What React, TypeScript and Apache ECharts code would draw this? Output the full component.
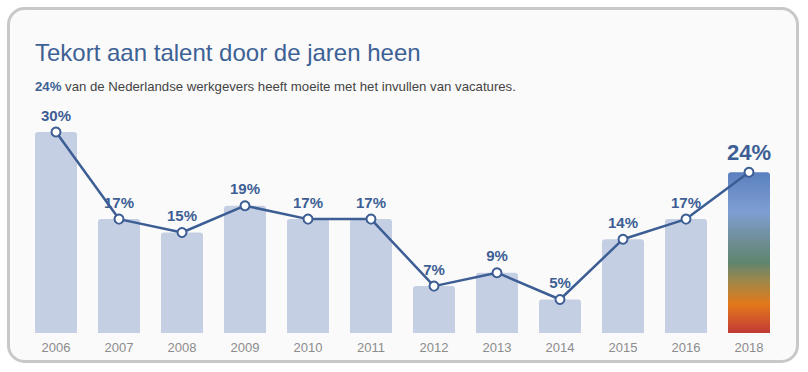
import React, { useEffect, useRef } from "react";
import * as echarts from "echarts";

const categories = ["2006", "2007", "2008", "2009", "2010", "2011", "2012", "2013", "2014", "2015", "2016", "2018"];
const values = [30, 17, 15, 19, 17, 17, 7, 9, 5, 14, 17, 24];

const TITLE = "Tekort aan talent door de jaren heen";
const SUB_BOLD = "24%";
const SUB_REST = " van de Nederlandse werkgevers heeft moeite met het invullen van vacatures.";

const FONT = "'Liberation Sans', Arial, Helvetica, sans-serif";
const BLUE = "#3d5e94";

export default function App() {
  const ref = useRef<HTMLDivElement>(null);
  useEffect(() => {
    if (!ref.current) return;
    const chart = echarts.init(ref.current, null, { renderer: "svg" });
    const last = values.length - 1;
    const gradient = new echarts.graphic.LinearGradient(0, 0, 0, 1, [
      { offset: 0, color: "#5b80bf" },
      { offset: 0.25, color: "#7e9fd2" },
      { offset: 0.45, color: "#6c8b8e" },
      { offset: 0.56, color: "#5f8570" },
      { offset: 0.68, color: "#a08848" },
      { offset: 0.82, color: "#e2791a" },
      { offset: 1, color: "#c23a36" },
    ]);
    chart.setOption({
      animation: false,
      backgroundColor: "#ffffff",
      graphic: [
        {
          type: "rect",
          z: -10,
          shape: { x: 8.5, y: 8.5, width: 789, height: 353, r: 16 },
          style: { fill: "#fafafa", stroke: "#c8c8c8", lineWidth: 3 },
        },
        {
          type: "text",
          x: 35,
          y: 52,
          style: {
            text: TITLE,
            font: `24px ${FONT}`,
            fill: "#3d6195",
            textVerticalAlign: "middle",
          },
        },
        {
          type: "text",
          x: 35,
          y: 86,
          style: {
            text: `{b|${SUB_BOLD}}{r|${SUB_REST}}`,
            textVerticalAlign: "middle",
            rich: {
              b: { fontFamily: FONT, fontSize: 13.2, fontWeight: "bold", fill: "#3d6195", color: "#3d6195" },
              r: { fontFamily: FONT, fontSize: 13.2, fill: "#444444", color: "#444444" },
            },
          },
        },
      ],
      grid: { left: 24.5, right: 27.5, top: 132, bottom: 39, containLabel: false },
      xAxis: {
        type: "category",
        data: categories,
        axisLine: { show: false },
        axisTick: { show: false },
        axisLabel: { color: "#8c8c8c", fontSize: 13, fontFamily: FONT, margin: 8 },
      },
      yAxis: {
        type: "value",
        min: 0,
        max: 30,
        show: false,
        splitLine: { show: false },
      },
      series: [
        {
          type: "bar",
          data: values.map((v, i) =>
            i === last ? { value: v, itemStyle: { color: gradient } } : v
          ),
          barWidth: 42,
          itemStyle: { color: "#c5cfe3", borderRadius: [3, 3, 0, 0] },
          silent: true,
        },
        {
          type: "line",
          data: values.map((v, i) =>
            i === last
              ? { value: v, label: { fontSize: 22, distance: 3 } }
              : v
          ),
          lineStyle: { color: BLUE, width: 2.5 },
          symbol: "circle",
          symbolSize: 9,
          itemStyle: { color: "#ffffff", borderColor: BLUE, borderWidth: 2 },
          label: {
            show: true,
            position: "top",
            distance: 4,
            formatter: "{c}%",
            color: BLUE,
            fontSize: 15,
            fontWeight: "bold",
            fontFamily: FONT,
          },
          z: 3,
        },
      ],
    });
    return () => chart.dispose();
  }, []);
  return (
    <div
      ref={ref}
      style={{ position: "fixed", left: 0, top: 0, width: 808, height: 372 }}
    />
  );
}
